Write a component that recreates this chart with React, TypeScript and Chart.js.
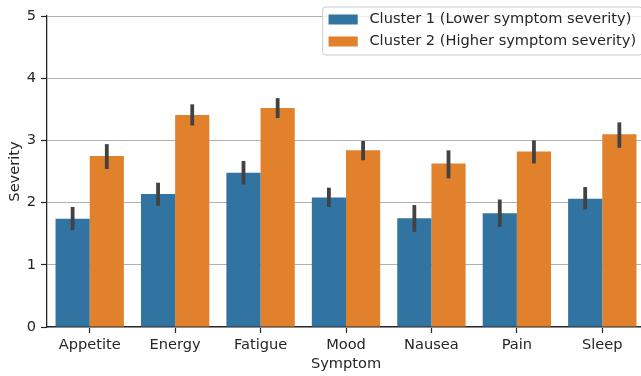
import React, { useEffect, useRef } from "react";
import { Chart, registerables } from "chart.js";

Chart.register(...registerables);

const categories = ["Appetite", "Energy", "Fatigue", "Mood", "Nausea", "Pain", "Sleep"];
const cluster1Label = "Cluster 1 (Lower symptom severity)";
const cluster2Label = "Cluster 2 (Higher symptom severity)";
const cluster1Means = [1.74, 2.14, 2.48, 2.08, 1.75, 1.83, 2.06];
const cluster1Low = [1.56, 1.95, 2.29, 1.93, 1.53, 1.61, 1.89];
const cluster1High = [1.93, 2.32, 2.67, 2.24, 1.96, 2.05, 2.25];
const cluster2Means = [2.75, 3.41, 3.52, 2.84, 2.63, 2.82, 3.1];
const cluster2Low = [2.54, 3.24, 3.36, 2.68, 2.39, 2.63, 2.88];
const cluster2High = [2.94, 3.58, 3.68, 2.99, 2.84, 3.0, 3.29];
const yTicks = [0, 1, 2, 3, 4, 5];

const BLUE = "#3274a1";
const ORANGE = "#e1812c";
const TEXT = "#262626";
const FONT = "'DejaVu Sans', sans-serif";
const FS = 14.6;

const errorLows = [cluster1Low, cluster2Low];
const errorHighs = [cluster1High, cluster2High];

const errorBarPlugin = {
  id: "errorBars",
  afterDatasetsDraw(chart: any) {
    const ctx = chart.ctx;
    const yScale = chart.scales.y;
    ctx.save();
    ctx.strokeStyle = "#424242";
    ctx.lineWidth = 3.8;
    ctx.lineCap = "butt";
    chart.data.datasets.forEach((_ds: any, di: number) => {
      const meta = chart.getDatasetMeta(di);
      meta.data.forEach((el: any, i: number) => {
        const lo = yScale.getPixelForValue(errorLows[di][i]);
        const hi = yScale.getPixelForValue(errorHighs[di][i]);
        ctx.beginPath();
        ctx.moveTo(el.x, lo);
        ctx.lineTo(el.x, hi);
        ctx.stroke();
      });
    });
    ctx.restore();
  },
};

const legendPlugin = {
  id: "customLegend",
  afterDraw(chart: any) {
    const ctx = chart.ctx;
    const fs = FS;
    ctx.save();
    ctx.font = `${fs}px ${FONT}`;
    const items = chart.data.datasets.map((d: any) => ({ label: d.label, color: d.backgroundColor }));
    const textW = Math.max(...items.map((it: any) => ctx.measureText(it.label).width));
    const pad = 0.4 * fs;
    const handle = 2 * fs;
    const gap = 0.8 * fs;
    const rowH = 22;
    const boxW = pad + handle + gap + textW + pad;
    const right = chart.chartArea.right - 3;
    const left = right - boxW;
    const top = 7;
    const boxH = 48;
    const r = 3;
    ctx.beginPath();
    ctx.moveTo(left + r, top);
    ctx.lineTo(left + boxW - r, top);
    ctx.arcTo(left + boxW, top, left + boxW, top + r, r);
    ctx.lineTo(left + boxW, top + boxH - r);
    ctx.arcTo(left + boxW, top + boxH, left + boxW - r, top + boxH, r);
    ctx.lineTo(left + r, top + boxH);
    ctx.arcTo(left, top + boxH, left, top + boxH - r, r);
    ctx.lineTo(left, top + r);
    ctx.arcTo(left, top, left + r, top, r);
    ctx.closePath();
    ctx.fillStyle = "rgba(255,255,255,0.8)";
    ctx.fill();
    ctx.strokeStyle = "#cccccc";
    ctx.lineWidth = 1;
    ctx.stroke();
    items.forEach((it: any, i: number) => {
      const cy = top + 12.5 + i * rowH;
      ctx.fillStyle = it.color;
      ctx.fillRect(left + pad, cy - 5, handle, 10);
      ctx.fillStyle = TEXT;
      ctx.textBaseline = "middle";
      ctx.textAlign = "left";
      ctx.fillText(it.label, left + pad + handle + gap, cy);
    });
    ctx.restore();
  },
};

export default function App() {
  const canvasRef = useRef<HTMLCanvasElement | null>(null);

  useEffect(() => {
    document.body.style.margin = "0";
    const canvas = canvasRef.current;
    if (!canvas) return;
    const chart = new Chart(canvas, {
      type: "bar",
      data: {
        labels: categories,
        datasets: [
          {
            label: cluster1Label,
            data: cluster1Means,
            backgroundColor: BLUE,
            borderWidth: 0,
            categoryPercentage: 0.8,
            barPercentage: 1.0,
          },
          {
            label: cluster2Label,
            data: cluster2Means,
            backgroundColor: ORANGE,
            borderWidth: 0,
            categoryPercentage: 0.8,
            barPercentage: 1.0,
          },
        ],
      },
      options: {
        responsive: false,
        animation: false,
        devicePixelRatio: 1,
        layout: { padding: { left: 0, right: 0, top: 16, bottom: 0 } },
        plugins: {
          legend: { display: false },
          tooltip: { enabled: false },
        },
        scales: {
          x: {
            offset: true,
            grid: {
              offset: false,
              drawOnChartArea: false,
              drawTicks: true,
              tickLength: 6,
              tickColor: TEXT,
              tickWidth: 1.2,
            },
            border: { display: true, color: TEXT, width: 1.3 },
            ticks: {
              color: TEXT,
              font: { family: FONT, size: FS },
              padding: 3,
              maxRotation: 0,
            },
            title: {
              display: true,
              text: "Symptom",
              color: TEXT,
              font: { family: FONT, size: FS },
              padding: { top: 0, bottom: 3 },
            },
            afterFit(scale: any) {
              scale.height = 49;
            },
          },
          y: {
            min: 0,
            max: 5,
            afterBuildTicks(scale: any) {
              scale.ticks = yTicks.map((v) => ({ value: v }));
            },
            grid: {
              color: "#b0b0b0",
              lineWidth: 1,
              drawTicks: true,
              tickLength: 6,
              tickColor: TEXT,
              tickWidth: 1.2,
            },
            border: { display: true, color: TEXT, width: 1.3 },
            ticks: {
              color: TEXT,
              font: { family: FONT, size: FS },
              padding: 5,
            },
            title: {
              display: true,
              text: "Severity",
              color: TEXT,
              font: { family: FONT, size: FS },
              padding: { top: 6, bottom: 0 },
            },
            afterFit(scale: any) {
              scale.width = 47;
            },
          },
        },
      },
      plugins: [errorBarPlugin, legendPlugin],
    });
    return () => chart.destroy();
  }, []);

  return (
    <div style={{ position: "fixed", left: 0, top: 0, width: 641, height: 376, overflow: "hidden", background: "#fff" }}>
      <canvas ref={canvasRef} width={645} height={376} style={{ display: "block" }} />
    </div>
  );
}
